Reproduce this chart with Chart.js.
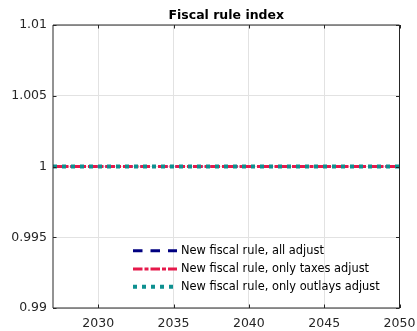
<!DOCTYPE html>
<html>
<head>
<meta charset="utf-8">
<script src="https://cdn.jsdelivr.net/npm/chart.js@4"></script>
<style>
  html, body { margin: 0; padding: 0; background: #fff; }
  #wrap { width: 417px; height: 331px; }
</style>
</head>
<body>
<div id="wrap"><canvas id="c" width="417" height="331"></canvas></div>
<script>
// Simulation years and the fiscal rule index under each scenario
const years = [2027, 2028, 2029, 2030, 2031, 2032, 2033, 2034, 2035, 2036, 2037, 2038,
               2039, 2040, 2041, 2042, 2043, 2044, 2045, 2046, 2047, 2048, 2049, 2050];
const allAdjust     = [1, 1, 1, 1, 1, 1, 1, 1, 1, 1, 1, 1, 1, 1, 1, 1, 1, 1, 1, 1, 1, 1, 1, 1];
const taxesAdjust   = [1, 1, 1, 1, 1, 1, 1, 1, 1, 1, 1, 1, 1, 1, 1, 1, 1, 1, 1, 1, 1, 1, 1, 1];
const outlaysAdjust = [1, 1, 1, 1, 1, 1, 1, 1, 1, 1, 1, 1, 1, 1, 1, 1, 1, 1, 1, 1, 1, 1, 1, 1];

const seriesNames = ['New fiscal rule, all adjust',
                     'New fiscal rule, only taxes adjust',
                     'New fiscal rule, only outlays adjust'];
const xTicks = [2030, 2035, 2040, 2045, 2050];
const yTicks = [0.99, 0.995, 1, 1.005, 1.01];
const chartTitle = 'Fiscal rule index';

const FONT = 'DejaVu Sans';
const AXIS = '#262626';

const toXY = (vals) => vals.map((v, i) => ({ x: years[i], y: v }));

// Title, axes box, inward tick marks and the in-axes legend
const decor = {
  id: 'decor',
  beforeDatasetsDraw(chart) {
    const ctx = chart.ctx, a = chart.chartArea;
    ctx.save();
    ctx.font = `bold 12.5px "${FONT}"`;
    ctx.fillStyle = '#000';
    ctx.textAlign = 'center';
    ctx.textBaseline = 'alphabetic';
    ctx.fillText(chartTitle, (a.left + a.right) / 2, 18.5);
    ctx.restore();
  },
  afterDatasetsDraw(chart) {
    const ctx = chart.ctx, a = chart.chartArea;
    const xs = chart.scales.x, ys = chart.scales.y;
    ctx.save();
    ctx.strokeStyle = AXIS;
    ctx.lineWidth = 1;
    ctx.beginPath();
    ctx.moveTo(a.left, a.top); ctx.lineTo(a.right, a.top);
    ctx.lineTo(a.right, a.bottom); ctx.lineTo(a.left, a.bottom);
    ctx.closePath();
    ctx.stroke();
    const tl = 3.5;
    ctx.beginPath();
    xTicks.forEach(v => {
      const px = Math.round(xs.getPixelForValue(v)) + 0.5;
      ctx.moveTo(px, a.bottom); ctx.lineTo(px, a.bottom - tl);
      ctx.moveTo(px, a.top); ctx.lineTo(px, a.top + tl);
    });
    yTicks.forEach(v => {
      const py = Math.round(ys.getPixelForValue(v)) + 0.5;
      ctx.moveTo(a.left, py); ctx.lineTo(a.left + tl, py);
      ctx.moveTo(a.right, py); ctx.lineTo(a.right - tl, py);
    });
    ctx.stroke();

    // legend
    const rows = [250.7, 269, 286.7];
    chart.data.datasets.forEach((ds, i) => {
      const y = rows[i];
      ctx.save();
      ctx.strokeStyle = ds.borderColor;
      ctx.lineWidth = ds.borderWidth;
      ctx.setLineDash(ds.borderDash || []);
      ctx.lineCap = 'butt';
      ctx.beginPath();
      ctx.moveTo(133, y); ctx.lineTo(177, y);
      ctx.stroke();
      ctx.restore();
      ctx.font = `11.4px "${FONT}"`;
      ctx.fillStyle = '#000';
      ctx.textAlign = 'left';
      ctx.textBaseline = 'middle';
      ctx.fillText(ds.label, 181, y + 0.5);
    });
    ctx.restore();
  }
};

new Chart(document.getElementById('c'), {
  type: 'line',
  data: {
    datasets: [
      { label: seriesNames[0], data: toXY(allAdjust), borderColor: '#000080',
        borderWidth: 3, borderDash: [9.5, 8], order: 3 },
      { label: seriesNames[1], data: toXY(taxesAdjust), borderColor: '#e6194b',
        borderWidth: 3, borderDash: [9.5, 2, 4, 2], order: 2 },
      { label: seriesNames[2], data: toXY(outlaysAdjust), borderColor: '#0e9090',
        borderWidth: 4, borderDash: [4, 5], order: 1 }
    ]
  },
  options: {
    responsive: false,
    animation: false,
    devicePixelRatio: 1,
    layout: { padding: { top: 25, right: 17.5, left: 0, bottom: 0 } },
    elements: { point: { radius: 0 }, line: { tension: 0, fill: false } },
    plugins: { legend: { display: false }, title: { display: false }, tooltip: { enabled: false } },
    scales: {
      x: {
        type: 'linear', min: 2027, max: 2050,
        afterBuildTicks: s => { s.ticks = xTicks.map(v => ({ value: v })); },
        afterFit: s => { s.height = 23; s.paddingLeft = 0; s.paddingRight = 0; },
        grid: { color: '#e2e2e2', lineWidth: 1, drawTicks: false },
        border: { display: false },
        ticks: { color: '#262626', padding: 8.5, maxRotation: 0, autoSkip: false,
                 font: { family: FONT, size: 12.5 }, callback: v => String(v) }
      },
      y: {
        type: 'linear', min: 0.99, max: 1.01,
        afterBuildTicks: s => { s.ticks = yTicks.map(v => ({ value: v })); },
        afterFit: s => { s.width = 53; s.paddingTop = 0; s.paddingBottom = 0; },
        grid: { color: '#e2e2e2', lineWidth: 1, drawTicks: false },
        border: { display: false },
        ticks: { color: '#262626', padding: 6, autoSkip: false,
                 font: { family: FONT, size: 12.5 }, callback: v => String(v) }
      }
    }
  },
  plugins: [decor]
});
</script>
</body>
</html>
